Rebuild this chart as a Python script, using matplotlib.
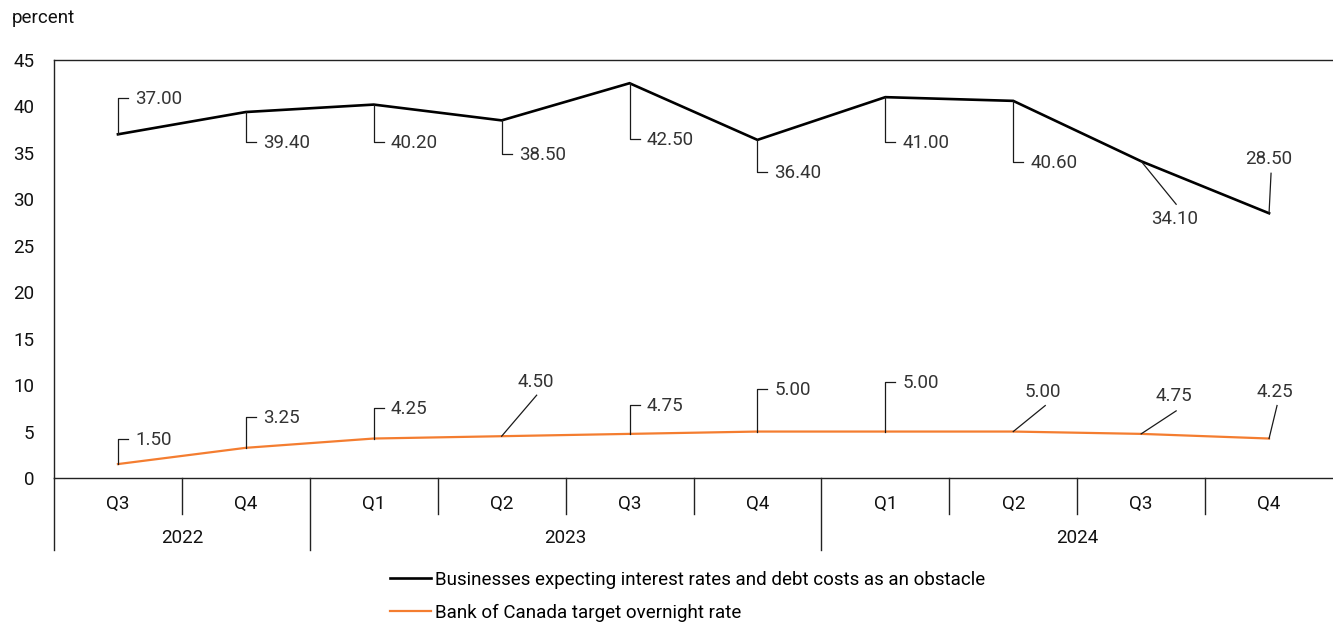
import matplotlib
matplotlib.use("Agg")
import matplotlib.pyplot as plt
import matplotlib.transforms as mtransforms
from matplotlib.lines import Line2D

# ---------------- data ----------------
quarters = ["Q3", "Q4", "Q1", "Q2", "Q3", "Q4", "Q1", "Q2", "Q3", "Q4"]
years = ["2022", "2023", "2024"]
year_spans = [(0, 1), (2, 5), (6, 9)]
obstacle = [37.00, 39.40, 40.20, 38.50, 42.50, 36.40, 41.00, 40.60, 34.10, 28.50]
overnight = [1.50, 3.25, 4.25, 4.50, 4.75, 5.00, 5.00, 5.00, 4.75, 4.25]
series_names = ["Businesses expecting interest rates and debt costs as an obstacle",
                "Bank of Canada target overnight rate"]
y_ticks = [0, 5, 10, 15, 20, 25, 30, 35, 40, 45]
y_unit = "percent"

# ---------------- label layout (pixel offsets, image y down) ----------------
obstacle_layout = [("e", -36), ("e", 30), ("e", 37), ("e", 34), ("e", 56),
                   ("e", 32), ("e", 45), ("e", 61),
                   ("s", 35, 43, 33, 58), ("s", 2, -40, 0, -54)]
overnight_layout = [("e", -25), ("e", -31), ("e", -31), ("s", 35, -41, 34, -54),
                    ("e", -29), ("e", -43), ("e", -50),
                    ("s", 32, -26, 30, -40), ("s", 35, -23, 33, -38), ("s", 8, -33, 6, -47)]

BLACK = "#000000"
ORANGE = "#f47d30"
LEADER = "#1a1a1a"
LABEL_COLOR = "#333333"
FS = 13.5

plt.rcParams["font.family"] = ["Roboto", "DejaVu Sans"]

W, H = 1333, 622
fig = plt.figure(figsize=(W / 100, H / 100), dpi=100)
ax = fig.add_axes([54 / W, (H - 478) / H, (W - 54) / W, 418 / H])

x = list(range(len(quarters)))
l1, = ax.plot(x, obstacle, color=BLACK, lw=1.9, solid_joinstyle="miter", zorder=3)
l2, = ax.plot(x, overnight, color=ORANGE, lw=1.6, zorder=3)

ax.set_xlim(-0.5, len(quarters) - 0.5)
ax.set_ylim(0, 45)
ax.set_yticks(y_ticks)
ax.tick_params(axis="y", length=0, pad=14, labelsize=FS, colors="#111111")
ax.set_xticks(x)
ax.set_xticklabels(quarters)
ax.tick_params(axis="x", length=0, pad=12, labelsize=FS, colors="#111111")

for s in ["left", "bottom", "top"]:
    ax.spines[s].set_color("#222222")
    ax.spines[s].set_linewidth(1.0)
ax.spines["right"].set_visible(False)

# category separators
btrans = mtransforms.blended_transform_factory(ax.transData, ax.transAxes)
short = 36 / 418
long_ = 72 / 418
year_bounds = [s[0] - 0.5 for s in year_spans]
for i in range(len(quarters)):
    xb = i - 0.5
    depth = long_ if xb in year_bounds else short
    ax.add_line(Line2D([xb, xb], [0, -depth], transform=btrans, color="#222222",
                       lw=1.0, clip_on=False))
for (a, b), yr in zip(year_spans, years):
    ax.text((a + b) / 2, -60 / 418, yr, transform=btrans, ha="center", va="center",
            fontsize=FS, color="#111111")


def draw_label(xv, yv, text, layout):
    off = mtransforms.Affine2D().scale(1, -1) + mtransforms.ScaledTranslation(xv, yv, ax.transData)
    if layout[0] == "e":
        d = layout[1]
        xs, ys = [0, 0, 10], [0, d, d]
        tx, ty, ha = 17, d + 1, "left"
    else:
        _, lx, ly, tx, ty = layout
        xs, ys = [0, lx], [0, ly]
        ha = "center"
    ax.add_line(Line2D(xs, ys, transform=off, color=LEADER, lw=0.9, clip_on=False, zorder=4))
    ax.annotate(text, xy=(xv, yv), xycoords="data", xytext=(tx, -ty),
                textcoords="offset pixels", ha=ha, va="center", fontsize=FS,
                color=LABEL_COLOR, zorder=5)


for xi, v, lay in zip(x, obstacle, obstacle_layout):
    draw_label(xi, v, f"{v:.2f}", lay)
for xi, v, lay in zip(x, overnight, overnight_layout):
    draw_label(xi, v, f"{v:.2f}", lay)

fig.text(12 / W, 1 - 18 / H, y_unit, ha="left", va="center", fontsize=FS, color="#111111")

fig.legend([l1, l2], series_names, loc="upper left",
           bbox_to_anchor=(390 / W, 1 - 571 / H), frameon=False, fontsize=FS,
           handlelength=2.2, handletextpad=0.2, labelspacing=0.78,
           borderpad=0, borderaxespad=0)

fig.savefig("out.png", dpi=100)
